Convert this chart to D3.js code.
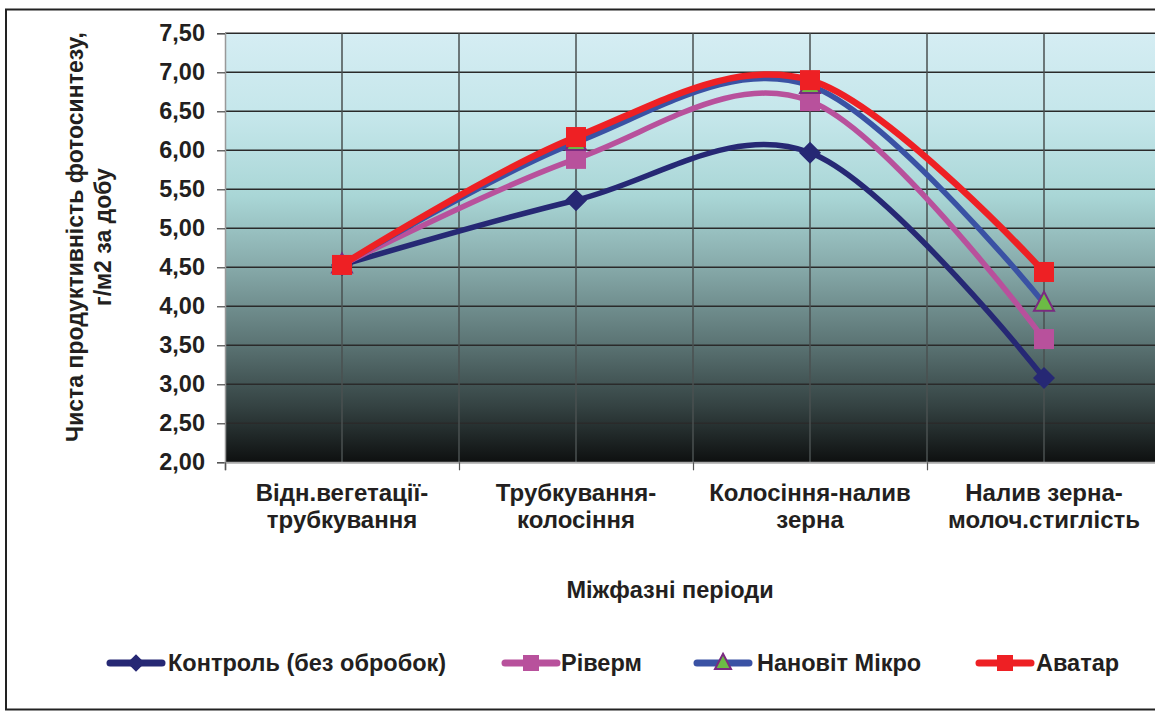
<!DOCTYPE html>
<html><head><meta charset="utf-8">
<script src="https://cdn.jsdelivr.net/npm/d3@7"></script>
<style>
body{margin:0;background:#fff;}
svg{display:block;font-family:"Liberation Sans",Arial,sans-serif;font-weight:bold;}
</style></head><body>
<svg id="c" width="1155" height="712"></svg>
<script>
const categories = [["Відн.вегетації-","трубкування"],["Трубкування-","колосіння"],["Колосіння-налив","зерна"],["Налив зерна-","молоч.стиглість"]];
const control = [4.53, 5.36, 5.97, 3.08];
const riverm  = [4.53, 5.89, 6.63, 3.58];
const nanovit = [4.53, 6.10, 6.83, 4.04];
const avatar  = [4.53, 6.17, 6.90, 4.44];
const seriesNames = ["Контроль (без обробок)","Ріверм","Нановіт Мікро","Аватар"];
const yTicks = [2.0,2.5,3.0,3.5,4.0,4.5,5.0,5.5,6.0,6.5,7.0,7.5];
const yTitle = ["Чиста продуктивність фотосинтезу,","г/м2 за добу"];
const xTitle = "Міжфазні періоди";

const svg = d3.select("#c");
const L = 225, R = 1161, T = 33.3, B = 462.3;

// outer border
svg.append("rect").attr("x",6).attr("y",9.5).attr("width",1200).attr("height",700)
  .attr("fill","none").attr("stroke","#222").attr("stroke-width",2);

const defs = svg.append("defs");
const g = defs.append("linearGradient").attr("id","bg").attr("x1",0).attr("y1",0).attr("x2",0).attr("y2",1);
[[0,"#d5edf3"],[0.2,"#c4e6ea"],[0.38,"#a9d6d6"],[0.55,"#85a8a8"],[0.72,"#5c7575"],[0.87,"#344242"],[1,"#0e1010"]]
  .forEach(s=>g.append("stop").attr("offset",s[0]).attr("stop-color",s[1]));

const x = d3.scaleBand().domain(d3.range(categories.length)).range([L,R]).padding(0);
const y = d3.scaleLinear().domain([2,7.5]).range([B,T]);
const cx = i => x(i) + x.bandwidth()/2;

svg.append("rect").attr("x",L).attr("y",T).attr("width",R-L).attr("height",B-T).attr("fill","url(#bg)");

// horizontal gridlines
svg.append("g").selectAll("line").data(yTicks.filter(t=>t>2)).join("line")
  .attr("x1",L).attr("x2",R).attr("y1",d=>y(d)).attr("y2",d=>y(d))
  .attr("stroke","#2a2a2a").attr("stroke-width",1.5);
// vertical gridlines at centers and boundaries
const vx = [];
categories.forEach((c,i)=>{vx.push(cx(i)); if(i>0) vx.push(x(i));});
svg.append("g").selectAll("line").data(vx).join("line")
  .attr("x1",d=>d).attr("x2",d=>d).attr("y1",T).attr("y2",B)
  .attr("stroke","#4a5050").attr("stroke-width",1.5);

// axes
const yAxis = svg.append("g").attr("transform",`translate(${L},0)`)
  .call(d3.axisLeft(y).tickValues(yTicks).tickSize(8).tickPadding(12).tickFormat(d=>d3.format(".2f")(d).replace(".",",")));
yAxis.select(".domain").attr("stroke","#999").attr("stroke-width",1.5);
yAxis.selectAll(".tick line").attr("stroke","#444").attr("stroke-width",1.2);
yAxis.selectAll("text").attr("font-size",23.5).attr("font-weight","bold").attr("fill","#231f20").attr("font-family","Liberation Sans, Arial");

const xAxis = svg.append("g").attr("transform",`translate(0,${B})`)
  .call(d3.axisBottom(d3.scaleLinear().domain([0,4]).range([L,R])).tickValues([0,1,2,3,4]).tickSize(8).tickFormat(""));
xAxis.select(".domain").attr("stroke","#aaa").attr("stroke-width",2);
xAxis.selectAll(".tick line").attr("stroke","#555").attr("stroke-width",1.2);

// x labels
categories.forEach((c,i)=>{
  const t = svg.append("text").attr("x",cx(i)).attr("y",501).attr("text-anchor","middle")
    .attr("font-size",24).attr("fill","#231f20");
  c.forEach((line,k)=>t.append("tspan").attr("x",cx(i)).attr("dy",k?27:0).text(line));
});
svg.append("text").attr("x",670).attr("y",598).attr("text-anchor","middle").attr("font-size",23.5).attr("fill","#231f20").text(xTitle);

// y title
const yt = svg.append("text").attr("transform","translate(83,237) rotate(-90)").attr("text-anchor","middle").attr("font-size",23).attr("fill","#231f20");
yTitle.forEach((line,k)=>yt.append("tspan").attr("x",0).attr("dy",k?28:0).text(line));

// series
const series = [
  {name:seriesNames[0], vals:control, color:"#262874", w:5.5, marker:"diamond", mfill:"#262874", mstroke:"#262874"},
  {name:seriesNames[1], vals:riverm, color:"#b8519c", w:5.5, marker:"square", mfill:"#b8519c", mstroke:"#b8519c"},
  {name:seriesNames[2], vals:nanovit, color:"#3a52a4", w:5.5, marker:"triangle", mfill:"#6cbb45", mstroke:"#7a2a80"},
  {name:seriesNames[3], vals:avatar, color:"#ee2024", w:6.5, marker:"square", mfill:"#ee2024", mstroke:"#ee2024"},
];
const line = d3.line().x((d,i)=>cx(i)).y(d=>y(d)).curve(d3.curveCardinal.tension(0));
function drawMarker(sel, s, px, py, scale){
  scale = scale||1;
  if(s.marker==="diamond"){
    const r=11*scale;
    sel.append("path").attr("d",`M${px},${py-r}L${px+r},${py}L${px},${py+r}L${px-r},${py}Z`).attr("fill",s.mfill);
  } else if(s.marker==="square"){
    const h=10*scale;
    sel.append("rect").attr("x",px-h).attr("y",py-h).attr("width",2*h).attr("height",2*h).attr("fill",s.mfill);
  } else {
    const h=10*scale;
    sel.append("path").attr("d",`M${px},${py-h*1.15}L${px+h},${py+h*0.75}L${px-h},${py+h*0.75}Z`).attr("fill",s.mfill).attr("stroke",s.mstroke).attr("stroke-width",2);
  }
}
series.forEach(s=>{
  const gg = svg.append("g");
  gg.append("path").datum(s.vals).attr("d",line).attr("fill","none").attr("stroke",s.color).attr("stroke-width",s.w).attr("stroke-linejoin","round");
  s.vals.forEach((v,i)=>drawMarker(gg,s,cx(i),y(v)));
});

// legend
const legLineX = [107,502,694,976];
const legTextX = [168,561,757,1036];
series.forEach((s,i)=>{
  const lx = legLineX[i], ly = 663;
  const lg = svg.append("g");
  lg.append("line").attr("x1",lx+3).attr("x2",lx+55).attr("y1",ly).attr("y2",ly).attr("stroke",s.color).attr("stroke-width",7).attr("stroke-linecap","round");
  drawMarker(lg,s,lx+29,ly,0.8);
  lg.append("text").attr("x",legTextX[i]).attr("y",ly+8).attr("font-size",23.5).attr("fill","#231f20").text(s.name);
});
</script>
</body></html>
